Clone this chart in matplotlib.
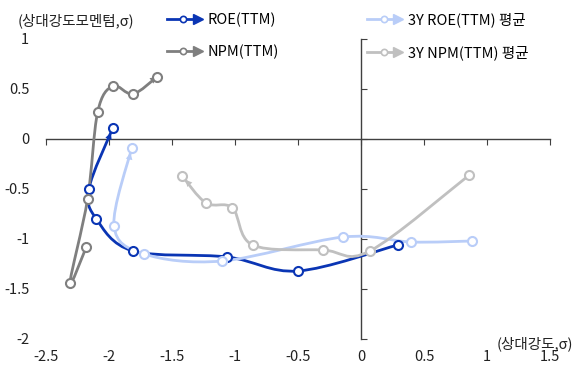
import numpy as np
import matplotlib.pyplot as plt
from matplotlib.path import Path
from matplotlib.patches import PathPatch
from matplotlib.lines import Line2D
from matplotlib.legend_handler import HandlerBase

plt.rcParams["font.family"] = ["Noto Sans CJK KR", "DejaVu Sans"]

# x: 상대강도(σ), y: 상대강도모멘텀(σ); series run oldest -> latest (arrow)
roe_x = [0.29, -0.50, -1.06, -1.81, -2.10, -2.16, -1.97]
roe_y = [-1.06, -1.32, -1.18, -1.12, -0.80, -0.50, 0.11]

roe3y_x = [0.88, 0.40, -0.14, -1.10, -1.72, -1.96, -1.82]
roe3y_y = [-1.02, -1.03, -0.98, -1.22, -1.15, -0.87, -0.09]

npm_x = [-2.18, -2.31, -2.17, -2.09, -1.97, -1.81, -1.62]
npm_y = [-1.08, -1.44, -0.60, 0.27, 0.53, 0.45, 0.62]

npm3y_x = [0.86, 0.07, -0.30, -0.86, -1.02, -1.23, -1.42]
npm3y_y = [-0.36, -1.12, -1.11, -1.06, -0.69, -0.64, -0.37]

labels = ["ROE(TTM)", "3Y ROE(TTM) 평균", "NPM(TTM)", "3Y NPM(TTM) 평균"]
colors = ["#0a35b4", "#b9cdf8", "#7f7f7f", "#c0c0c0"]
series = [(roe_x, roe_y), (roe3y_x, roe3y_y), (npm_x, npm_y), (npm3y_x, npm3y_y)]

x_ticks = [-2.5, -2, -1.5, -1, -0.5, 0, 0.5, 1, 1.5]
x_ticklabels = ["-2.5", "-2", "-1.5", "-1", "-0.5", "0", "0.5", "1", "1.5"]
y_ticks = [1, 0.5, 0, -0.5, -1, -1.5, -2]
y_ticklabels = ["1", "0.5", "0", "-0.5", "-1", "-1.5", "-2"]

FS = 10.5


def smooth_path(x, y):
    # excel-like smoothed line: cubic bezier through every point
    p = np.column_stack([x, y]).astype(float)
    n = len(p)
    ext = np.vstack([p[0], p, p[-1]])
    verts = [p[0]]
    codes = [Path.MOVETO]
    c2 = p[0]
    for i in range(n - 1):
        c1 = ext[i + 1] + (ext[i + 2] - ext[i]) / 6
        c2 = ext[i + 2] - (ext[i + 3] - ext[i + 1]) / 6
        verts += [c1, c2, p[i + 1]]
        codes += [Path.CURVE4] * 3
    return Path(verts, codes), p[-1], p[-1] - c2


class ArrowLineHandler(HandlerBase):
    def create_artists(self, legend, orig_handle, xdescent, ydescent,
                       width, height, fontsize, trans):
        c = orig_handle.get_color()
        y = (height - ydescent) / 2
        x0, x1 = -xdescent, width - xdescent
        line = Line2D([x0, x1 - 3], [y, y], color=c, lw=2)
        circ = Line2D([x0 + 0.46 * width], [y], marker="o", ms=4.5,
                      mfc="white", mec=c, mew=1.2, ls="none")
        head = Line2D([x1 - 3], [y], marker=">", ms=7, color=c, ls="none")
        for a in (line, circ, head):
            a.set_transform(trans)
        return [line, circ, head]


fig = plt.figure(figsize=(5.77, 3.65), dpi=100)
ax = fig.add_axes([46 / 577, 1 - 339 / 365, 504 / 577, 300 / 365])

ax.set_xlim(-2.5, 1.5)
ax.set_ylim(-2, 1)

handles = []
for (sx, sy), col, lab in zip(series, colors, labels):
    path, end, d = smooth_path(sx, sy)
    ax.add_patch(PathPatch(path, fill=False, edgecolor=col, lw=2, zorder=3,
                           capstyle="round", joinstyle="round"))
    ax.annotate("", xy=end, xytext=end - d,
                arrowprops=dict(arrowstyle="-|>", color=col, lw=0,
                                mutation_scale=12, shrinkA=0, shrinkB=3.6),
                zorder=4)
    ax.plot(sx, sy, ls="none", marker="o", ms=6.5, mfc="white", mec=col,
            mew=1.5, zorder=5)
    handles.append(Line2D([], [], color=col, label=lab))

# spines crossing at zero
for side in ["top", "right"]:
    ax.spines[side].set_visible(False)
ax.spines["left"].set_position(("data", 0))
ax.spines["bottom"].set_position(("data", 0))
for side in ["left", "bottom"]:
    ax.spines[side].set_color("#404040")
    ax.spines[side].set_linewidth(1)
ax.set_xticks(x_ticks)
ax.set_yticks(y_ticks)
ax.tick_params(axis="x", direction="out", length=4, color="#404040",
               labelbottom=False)
ax.tick_params(axis="y", direction="in", length=4, color="#404040",
               labelleft=False)

# tick labels at the frame edges
secx = ax.secondary_xaxis("bottom")
secx.set_xticks(x_ticks, x_ticklabels)
secx.spines["bottom"].set_visible(False)
secx.tick_params(length=0, pad=8, labelsize=FS, labelcolor="#222222")

secy = ax.secondary_yaxis("left")
secy.set_yticks(y_ticks, y_ticklabels)
secy.spines["left"].set_visible(False)
secy.tick_params(length=0, pad=12, labelsize=FS, labelcolor="#222222")

fig.text(18 / 577, 1 - 21 / 365, "(상대강도모멘텀,σ)", fontsize=FS,
         va="center", ha="left", color="#222222")
fig.text(497 / 577, 1 - 344 / 365, "(상대강도,σ)", fontsize=FS,
         va="center", ha="left", color="#222222")

leg_handles = [handles[0], handles[2], handles[1], handles[3]]
fig.legend(handles=leg_handles, ncol=2, loc="upper left",
           bbox_to_anchor=(167 / 577, 1 - 12 / 365),
           bbox_transform=fig.transFigure, frameon=False, fontsize=FS,
           handlelength=2.4, handletextpad=0.35, columnspacing=6.1,
           labelspacing=1.25, borderpad=0, borderaxespad=0,
           handler_map={Line2D: ArrowLineHandler()})

fig.savefig("out.png", dpi=100)
plt.close(fig)
